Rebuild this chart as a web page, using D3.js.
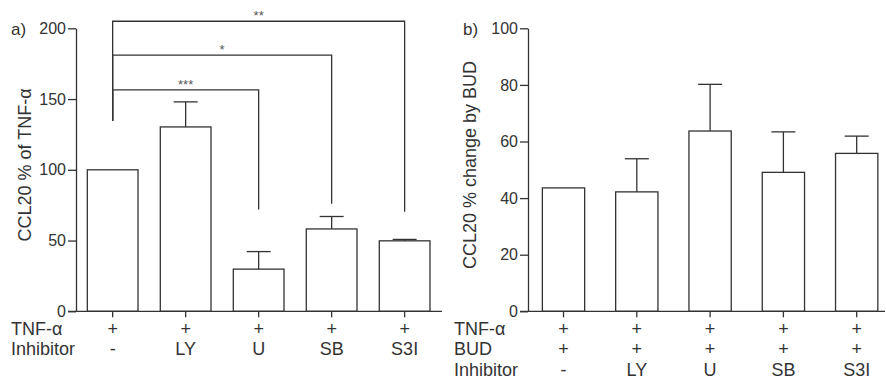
<!DOCTYPE html>
<html>
<head>
<meta charset="utf-8">
<script src="https://cdn.jsdelivr.net/npm/d3@7"></script>
<style>
  body { margin: 0; background: #fff; }
  svg { display: block; font-family: "Liberation Sans", Arial, sans-serif; }
  text { fill: #333; }
</style>
</head>
<body>
<svg width="886" height="380"></svg>
<script>
// categories and row labels
var inhibitors = ["-", "LY", "U", "SB", "S3I"];
var tnfRow = ["+", "+", "+", "+", "+"];
var budRow = ["+", "+", "+", "+", "+"];

// panel a: CCL20 % of TNF-a (mean, SEM)
var tnfValues = [100, 130.3, 29.8, 58.2, 49.8];
var tnfErrors = [0, 17.7, 12.4, 8.8, 1.0];
var ticksA = [0, 50, 100, 150, 200];

// significance brackets in panel a (from "-" to target)
var sigTo = ["U", "SB", "S3I"];
var sigLabels = ["***", "*", "**"];
var sigTop = [156.5, 181, 205];
var sigEnd = [72, 76, 70.4];
var sigStart = 134.5;

// panel b: CCL20 % change by BUD
var budValues = [43.6, 42.2, 63.7, 49.1, 55.8];
var budErrors = [0, 11.7, 16.5, 14.3, 6.1];
var ticksB = [0, 20, 40, 60, 80, 100];

var svg = d3.select("svg");
var stroke = "#333";
var y0 = 311.3, yTop = 28.3;

var drawPanel = function(opt) {
      var g = svg.append("g");
      var x = d3.scaleBand()
            .domain(inhibitors)
            .range([opt.left, opt.right])
            .paddingInner(opt.pin)
            .paddingOuter(opt.pout);
      var y = d3.scaleLinear()
            .domain([0, opt.max])
            .range([y0, yTop]);

      // y axis
      var yAxis = g.append("g")
            .attr("transform", "translate(" + opt.left + ",0)")
            .call(d3.axisLeft(y).tickValues(opt.ticks).tickSize(8).tickSizeOuter(0).tickPadding(2));
      yAxis.selectAll("path, line").attr("stroke", stroke).attr("stroke-width", 1.3);
      yAxis.selectAll("text").attr("fill", "#333").style("font-size", "16px")
            .style("font-family", "Liberation Sans, Arial, sans-serif");

      // bars
      g.selectAll("rect.bar")
            .data(opt.values)
            .enter()
            .append("rect")
                  .attr("class", "bar")
                  .attr("x", (d, i) => x(inhibitors[i]))
                  .attr("width", x.bandwidth())
                  .attr("y", d => y(d))
                  .attr("height", d => y0 - y(d))
                  .attr("fill", "#fff")
                  .attr("stroke", stroke)
                  .attr("stroke-width", 1.3);

      // error bars (upper only)
      opt.values.forEach(function(v, i) {
            var e = opt.errors[i];
            if (!e) return;
            var cx = x(inhibitors[i]) + x.bandwidth() / 2;
            g.append("line").attr("x1", cx).attr("x2", cx)
                  .attr("y1", y(v)).attr("y2", y(v + e))
                  .attr("stroke", stroke).attr("stroke-width", 1.3);
            g.append("line").attr("x1", cx - 12).attr("x2", cx + 12)
                  .attr("y1", y(v + e)).attr("y2", y(v + e))
                  .attr("stroke", stroke).attr("stroke-width", 1.3);
      });

      // x axis line and ticks
      g.append("line")
            .attr("x1", opt.left - 8).attr("x2", opt.axisEnd)
            .attr("y1", y0).attr("y2", y0)
            .attr("stroke", stroke).attr("stroke-width", 1.3);
      g.selectAll("line.xtick")
            .data(inhibitors)
            .enter()
            .append("line")
                  .attr("class", "xtick")
                  .attr("x1", d => x(d) + x.bandwidth() / 2)
                  .attr("x2", d => x(d) + x.bandwidth() / 2)
                  .attr("y1", y0).attr("y2", y0 + 6)
                  .attr("stroke", stroke).attr("stroke-width", 1.3);

      // condition rows under the axis
      opt.rows.forEach(function(row, r) {
            var by = 334.5 + r * 20.7;
            g.append("text")
                  .attr("x", opt.rowX).attr("y", by)
                  .style("font-size", "18px")
                  .text(row.name);
            g.selectAll(null)
                  .data(row.marks)
                  .enter()
                  .append("text")
                        .attr("x", (d, i) => x(inhibitors[i]) + x.bandwidth() / 2)
                        .attr("y", by)
                        .attr("text-anchor", "middle")
                        .style("font-size", "18px")
                        .text(d => d);
      });

      // y title
      g.append("text")
            .attr("transform", "translate(" + opt.titleX + "," + 165 + ") rotate(-90)")
            .attr("text-anchor", "middle")
            .style("font-size", "18px")
            .text(opt.title);

      // panel letter
      g.append("text")
            .attr("x", opt.letterX).attr("y", 35)
            .style("font-size", "17px")
            .text(opt.letter);

      return {g: g, x: x, y: y};
}

var a = drawPanel({
      left: 76, right: 441.3, pin: 0.3055, pout: 0.155, axisEnd: 442,
      max: 200, ticks: ticksA, values: tnfValues, errors: tnfErrors,
      rows: [{name: "TNF-α", marks: tnfRow}, {name: "Inhibitor", marks: inhibitors}],
      rowX: 11, titleX: 31, title: "CCL20 % of TNF-α", letter: "a)", letterX: 11
});

var b = drawPanel({
      left: 528, right: 892.2, pin: 0.423, pout: 0.196, axisEnd: 885,
      max: 100, ticks: ticksB, values: budValues, errors: budErrors,
      rows: [{name: "TNF-α", marks: tnfRow}, {name: "BUD", marks: budRow}, {name: "Inhibitor", marks: inhibitors}],
      rowX: 454, titleX: 476, title: "CCL20 % change by BUD", letter: "b)", letterX: 463
});

// significance brackets for panel a
var cxA = d => a.x(d) + a.x.bandwidth() / 2;
var startX = cxA(inhibitors[0]);
sigTo.forEach(function(t, i) {
      var ex = cxA(t);
      var top = a.y(sigTop[i]);
      a.g.append("path")
            .attr("d", "M" + startX + "," + a.y(sigStart) + "V" + top + "H" + ex + "V" + a.y(sigEnd[i]))
            .attr("fill", "none")
            .attr("stroke", stroke)
            .attr("stroke-width", 1.3);
      a.g.append("text")
            .attr("x", (startX + ex) / 2)
            .attr("y", top - 1)
            .attr("text-anchor", "middle")
            .style("font-size", "13px")
            .style("fill", "#555")
            .text(sigLabels[i]);
});
</script>
</body>
</html>
